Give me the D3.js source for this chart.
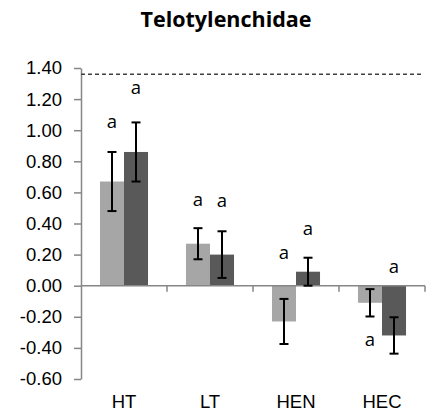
<!DOCTYPE html>
<html>
<head>
<meta charset="utf-8">
<script src="https://cdn.jsdelivr.net/npm/d3@7"></script>
<style>
  body { margin: 0; background: #fff; }
  svg { display: block; font-family: "Open Sans", sans-serif; }
</style>
</head>
<body>
<svg id="chart" width="437" height="418"></svg>
<script>
// data
let categories = ['HT', 'LT', 'HEN', 'HEC'];
let seriesLight = [0.67, 0.27, -0.23, -0.11];
let errLight = [0.19, 0.10, 0.145, 0.088];
let seriesDark = [0.86, 0.20, 0.09, -0.32];
let errDark = [0.19, 0.15, 0.09, 0.117];
let lettersLight = ['a', 'a', 'a', 'a'];
let lettersDark = ['a', 'a', 'a', 'a'];
let letterPosLight = [1.05, 0.55, 0.21, -0.35];
let letterPosDark = [1.27, 0.54, 0.36, 0.12];
let yTicks = [-0.6, -0.4, -0.2, 0, 0.2, 0.4, 0.6, 0.8, 1.0, 1.2, 1.4];
let refValue = 1.36;
let title = 'Telotylenchidae';

let colorLight = '#a6a6a6';
let colorDark = '#595959';
let colorAxis = '#868686';
let fontSize = 18.5;

let svg = d3.select('#chart');

let x = d3.scaleBand().domain(categories).range([81, 425]).padding(0);
let x1 = d3.scaleBand().domain(['light', 'dark']).range([0, x.bandwidth()]).paddingInner(0).paddingOuter(0.79);
let y = d3.scaleLinear().domain([-0.6, 1.4]).range([379, 68]);

// title
svg.append('text')
  .attr('x', 226).attr('y', 27)
  .attr('text-anchor', 'middle')
  .attr('font-weight', 'bold')
  .attr('font-size', 21.5)
  .attr('fill', '#000')
  .text(title);

// y axis
let yAxis = svg.append('g')
  .attr('transform', 'translate(81,0)')
  .call(d3.axisLeft(y).tickValues(yTicks).tickSize(7).tickSizeOuter(0).tickPadding(12));
yAxis.select('.domain').attr('stroke', colorAxis).attr('stroke-width', 1.5);
yAxis.selectAll('.tick line').attr('stroke', colorAxis).attr('stroke-width', 1.5);
yAxis.selectAll('.tick text').attr('font-size', fontSize).attr('fill', '#000')
  .text(d => d3.format('.2f')(d).replace('−', '-'));

// bars
let rows = categories.map((c, i) => [
  { cat: c, key: 'light', v: seriesLight[i], e: errLight[i], t: lettersLight[i], ty: letterPosLight[i], col: colorLight },
  { cat: c, key: 'dark', v: seriesDark[i], e: errDark[i], t: lettersDark[i], ty: letterPosDark[i], col: colorDark }
]).flat();

svg.append('g').selectAll('rect')
  .data(rows)
  .join('rect')
  .attr('x', d => x(d.cat) + x1(d.key))
  .attr('width', x1.bandwidth())
  .attr('y', d => y(Math.max(0, d.v)))
  .attr('height', d => Math.abs(y(d.v) - y(0)))
  .attr('fill', d => d.col);

// x axis line at zero with boundary ticks
let xAxis = svg.append('g')
  .attr('transform', `translate(0,${y(0)})`);
xAxis.append('line')
  .attr('x1', x.range()[0]).attr('x2', x.range()[1])
  .attr('stroke', colorAxis).attr('stroke-width', 1.5);
xAxis.selectAll('.bt')
  .data(categories)
  .join('line')
  .attr('class', 'bt')
  .attr('x1', d => x(d) + x.bandwidth()).attr('x2', d => x(d) + x.bandwidth())
  .attr('y1', 0).attr('y2', 6)
  .attr('stroke', colorAxis).attr('stroke-width', 1.5);

// category labels
let catAxis = svg.append('g')
  .attr('transform', 'translate(0,395)')
  .call(d3.axisBottom(x).tickSize(0).tickPadding(0));
catAxis.select('.domain').remove();
catAxis.selectAll('.tick text').attr('font-size', fontSize).attr('fill', '#000');

// error bars
let eb = svg.append('g').attr('stroke', '#000').attr('stroke-width', 2);
let cx = d => x(d.cat) + x1(d.key) + x1.bandwidth() / 2;
eb.selectAll('.stem').data(rows).join('line')
  .attr('x1', cx).attr('x2', cx)
  .attr('y1', d => y(d.v + d.e)).attr('y2', d => y(d.v - d.e));
eb.selectAll('.capTop').data(rows).join('line')
  .attr('x1', d => cx(d) - 4.5).attr('x2', d => cx(d) + 4.5)
  .attr('y1', d => y(d.v + d.e)).attr('y2', d => y(d.v + d.e));
eb.selectAll('.capBot').data(rows).join('line')
  .attr('x1', d => cx(d) - 4.5).attr('x2', d => cx(d) + 4.5)
  .attr('y1', d => y(d.v - d.e)).attr('y2', d => y(d.v - d.e));

// significance letters
svg.append('g').selectAll('text')
  .data(rows)
  .join('text')
  .attr('x', cx)
  .attr('y', d => y(d.ty))
  .attr('dy', '0.3em')
  .attr('text-anchor', 'middle')
  .attr('font-size', fontSize)
  .attr('fill', '#000')
  .text(d => d.t);

// dashed reference line
svg.append('line')
  .attr('x1', 81).attr('x2', 424)
  .attr('y1', y(refValue)).attr('y2', y(refValue))
  .attr('stroke', '#404040')
  .attr('stroke-width', 1.5)
  .attr('stroke-dasharray', '4,3');
</script>
</body>
</html>
